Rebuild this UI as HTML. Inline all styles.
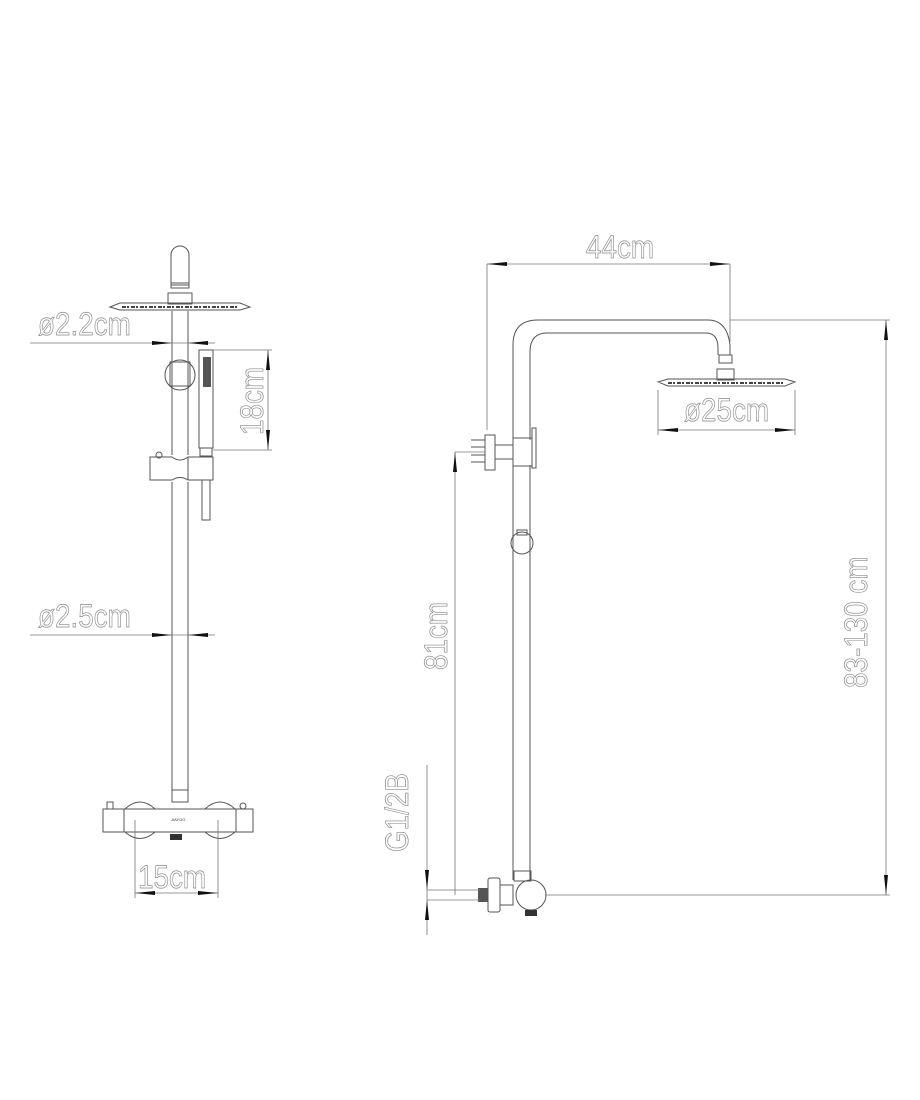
<!DOCTYPE html>
<html><head><meta charset="utf-8"><style>
html,body{margin:0;padding:0;background:#fff}
svg{display:block}
.l{stroke:#555;stroke-width:1;fill:none}
.d{stroke:#777;stroke-width:0.8;fill:none}
.t{font-family:"Liberation Sans",sans-serif;font-size:32px;fill:none;stroke:#888;stroke-width:0.7}
.a{fill:#111}
</style></head><body>
<svg width="920" height="1100" viewBox="0 0 920 1100" xmlns="http://www.w3.org/2000/svg">
<!-- LEFT VIEW -->
<g>
<path class="l" d="M171 285 V255 a9 9 0 0 1 18 0 V285 Z"/>
<rect class="l" x="171" y="283" width="18" height="5"/>
<rect class="l" x="168" y="293" width="24" height="11"/>
<path class="l" d="M110 307 L120 303 L240 303 L250 307 L240 310 L120 310 Z"/>
<path d="M122 307 H238" stroke="#444" stroke-width="2" stroke-dasharray="4 1 2 2"/>
<path class="l" d="M172 311 V455 M188 311 V455 M172 482 V795 M188 482 V795"/>
<circle class="l" cx="180" cy="375" r="15"/>
<rect class="l" x="170" y="362" width="20" height="24"/>
<rect class="l" x="199" y="350" width="14" height="98"/>
<rect x="203" y="357" width="8" height="30" fill="#555"/>
<rect class="l" x="200" y="448" width="12" height="8"/>
<path class="l" d="M150 457 H172 Q180 463 188 457 H213 V480 H188 Q180 475 172 480 H150 Z M188 457 V480"/>
<circle class="l" cx="159" cy="455" r="3"/>
<rect class="l" x="202" y="480" width="8" height="40"/>
<!-- mixer -->
<rect class="l" x="172" y="790" width="16" height="12"/>
<rect class="l" x="103" y="809" width="150" height="23"/>
<path class="l" d="M125 809 Q140 795 155 809 M125 832 Q140 845 155 832 M205 809 Q220 795 235 809 M205 832 Q220 845 235 832 M124 809 V832 M236 809 V832"/>
<rect class="l" x="107" y="802" width="6" height="7"/>
<circle class="l" cx="243" cy="806" r="3"/>
<rect x="170" y="834" width="12" height="6" fill="#333"/>
<text x="171" y="821" font-size="4" font-family="Liberation Sans" fill="#333">JIAYOO</text>
<!-- dims -->
<path class="d" d="M30 343 H215"/>
<path class="a" d="M152 341 L172 343 L152 345 Z M208 341 L188 343 L208 345 Z"/>
<text class="t" transform="translate(38 335) scale(0.87 1)">ø2.2cm</text>
<path class="d" d="M213 350 H272 M213 450 H272 M268 350 V450"/>
<path class="a" d="M266 370 L268 350 L270 370 Z M266 430 L268 450 L270 430 Z"/>
<text class="t" transform="translate(263 435) rotate(-90) scale(0.87 1)">18cm</text>
<path class="d" d="M30 635 H215"/>
<path class="a" d="M152 633 L172 635 L152 637 Z M208 633 L188 635 L208 637 Z"/>
<text class="t" transform="translate(38 627) scale(0.87 1)">ø2.5cm</text>
<path class="d" d="M135 820 V898 M218 820 V898 M135 893 H218"/>
<path class="a" d="M135 893 L155 891 L155 895 Z M218 893 L198 891 L198 895 Z"/>
<text class="t" transform="translate(138 888) scale(0.87 1)">15cm</text>
</g>
<!-- RIGHT VIEW -->
<g>
<path class="l" d="M513 440 V345 Q513 320 538 320 H708 Q727 320 730 345 V355"/>
<path class="l" d="M530 440 V352 Q530 333 547 333 H706 Q718 333 718 348 V355"/>
<rect class="l" x="719" y="355" width="13" height="8"/>
<rect class="l" x="717" y="369" width="17" height="11"/>
<path class="l" d="M658 382 L668 379 L785 379 L795 382 L785 386 L668 386 Z"/>
<path d="M668 383 H783" stroke="#444" stroke-width="2" stroke-dasharray="4 1 2 2"/>
<path class="l" d="M513 465 V880 M530 465 V880"/>
<rect class="l" x="513" y="438" width="19" height="28"/>
<rect class="l" x="532" y="428" width="4" height="40"/>
<rect class="l" x="495" y="445" width="18" height="14"/>
<rect class="l" x="485" y="435" width="10" height="35"/>
<path class="l" d="M471 440 H485 M471 447 H485 M471 455 H485 M471 462 H485"/>
<circle class="l" cx="522" cy="543" r="11"/>
<rect class="l" x="517" y="530" width="10" height="5"/>
<!-- bottom valve -->
<rect class="l" x="514" y="871" width="17" height="10"/>
<circle class="l" cx="531" cy="895" r="15"/>
<rect x="525" y="910" width="12" height="6" fill="#333"/>
<rect class="l" x="500" y="885" width="13" height="20"/>
<rect class="l" x="488" y="878" width="12" height="34" rx="2"/>
<rect x="478" y="888" width="10" height="14" fill="#555"/>
<!-- dims -->
<path class="d" d="M487 264 V430 M730 264 V342 M487 264 H730"/>
<path class="a" d="M487 264 L507 262 L507 266 Z M730 264 L710 262 L710 266 Z"/>
<text class="t" transform="translate(586 258) scale(0.87 1)">44cm</text>
<path class="d" d="M658 390 V435 M795 390 V435 M658 430 H795"/>
<path class="a" d="M658 430 L678 428 L678 432 Z M795 430 L775 428 L775 432 Z"/>
<text class="t" transform="translate(684 421) scale(0.87 1)">ø25cm</text>
<path class="d" d="M730 320 H890 M545 895 H890 M886 320 V895"/>
<path class="a" d="M884 340 L886 320 L888 340 Z M884 875 L886 895 L888 875 Z"/>
<text class="t" transform="translate(867 688) rotate(-90) scale(0.87 1)">83-130 cm</text>
<path class="d" d="M455 452 H485 M455 452 V895"/>
<path class="a" d="M453 472 L455 452 L457 472 Z"/>
<text class="t" transform="translate(447 670) rotate(-90) scale(0.87 1)">81cm</text>
<path class="d" d="M427 765 V935 M427 890 H480 M427 900 H480"/>
<path class="a" d="M425 870 L427 890 L429 870 Z M425 920 L427 900 L429 920 Z"/>
<text class="t" transform="translate(408 852) rotate(-90) scale(0.87 1)">G1/2B</text>
</g>
</svg>
</body></html>
